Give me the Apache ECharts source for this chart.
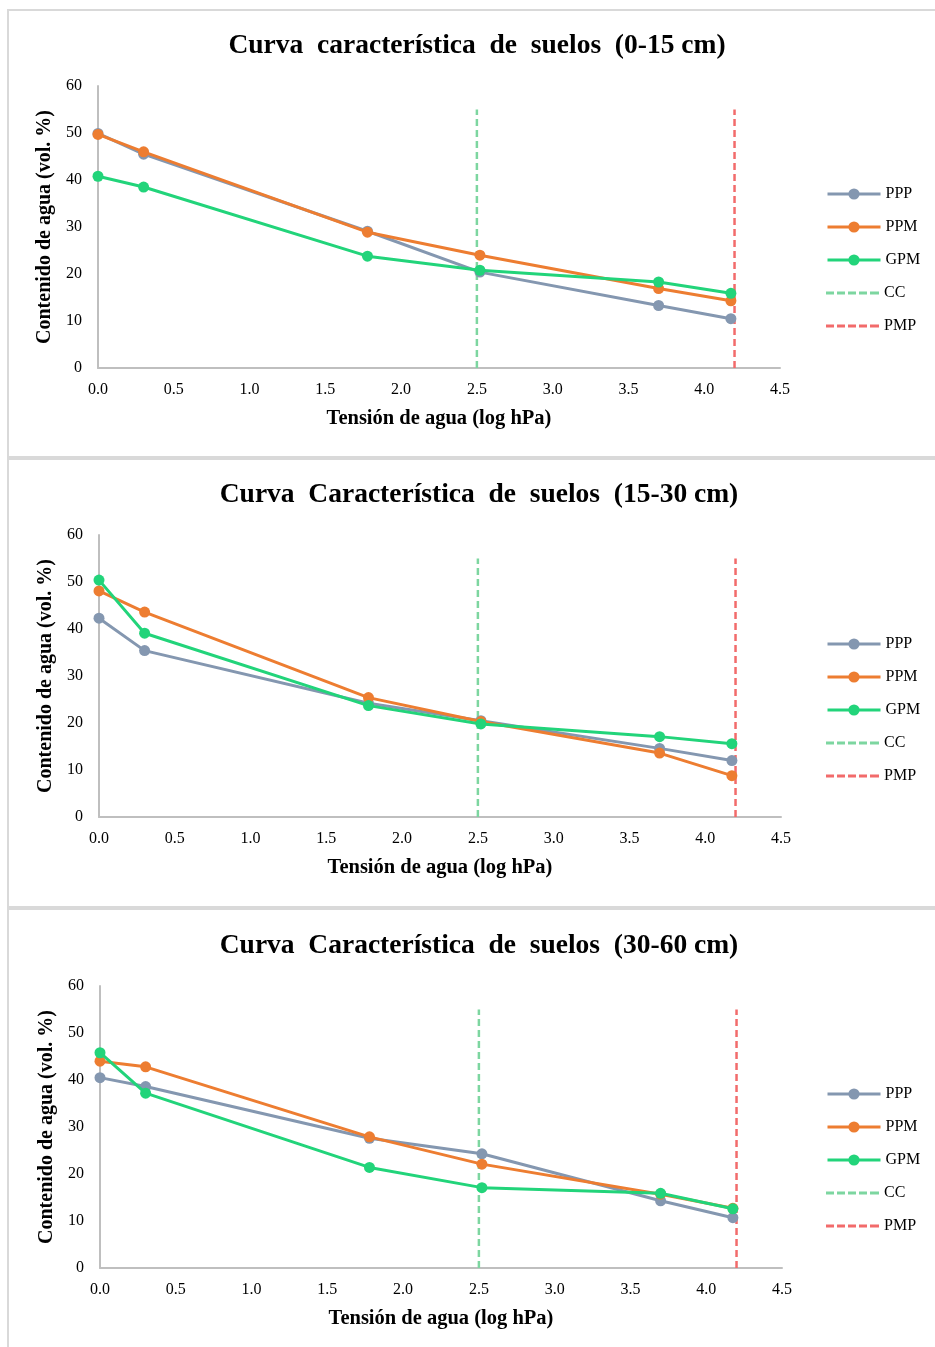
<!DOCTYPE html>
<html>
<head>
<meta charset="utf-8">
<script src="https://cdn.jsdelivr.net/npm/echarts@6/dist/echarts.min.js"></script>
<style>
html,body{margin:0;padding:0;background:#fff;}
#c{width:935px;height:1347px;}
</style>
</head>
<body>
<div id="c"></div>
<script>
// Tension (log hPa) for measured points
const tension = [0, 0.301, 1.778, 2.52, 3.699, 4.176];
const titles = [
  'Curva  característica  de  suelos  (0-15 cm)',
  'Curva  Característica  de  suelos  (15-30 cm)',
  'Curva  Característica  de  suelos  (30-60 cm)'
];
const seriesNames = ['PPP', 'PPM', 'GPM'];
// Panel 1 (0-15 cm)
const ppp1 = [49.9, 45.5, 29.1, 20.4, 13.3, 10.5];
const ppm1 = [49.7, 46.0, 28.9, 24.0, 16.9, 14.3];
const gpm1 = [40.8, 38.5, 23.8, 20.8, 18.3, 15.9];
// Panel 2 (15-30 cm)
const ppp2 = [42.3, 35.4, 24.2, 20.5, 14.6, 12.0];
const ppm2 = [48.1, 43.6, 25.4, 20.3, 13.6, 8.8];
const gpm2 = [50.4, 39.1, 23.7, 19.8, 17.1, 15.6];
// Panel 3 (30-60 cm)
const ppp3 = [40.5, 38.6, 27.6, 24.3, 14.3, 10.7];
const ppm3 = [44.0, 42.8, 27.9, 22.1, 15.7, 12.7];
const gpm3 = [45.8, 37.2, 21.4, 17.1, 15.9, 12.6];
// Reference lines: CC and PMP (x position, y extent)
const ccX = 2.5, pmpX = 4.2;
const refLineY = [0, 55];
const xTicks = ['0.0','0.5','1.0','1.5','2.0','2.5','3.0','3.5','4.0','4.5'];

const panels = [[ppp1, ppm1, gpm1], [ppp2, ppm2, gpm2], [ppp3, ppm3, gpm3]];
const colors = ['#8497b0', '#ed7d31', '#22d47a'];
const ccColor = '#7dd6a0';
const pmpColor = '#f26b6b';
const FONT = '"Liberation Serif", "Times New Roman", serif';
const dashIcon = 'path://M0,0h8v3h-8z M11,0h8v3h-8z M22,0h8v3h-8z M33,0h8v3h-8z M44,0h9v3h-9z';

const layout = [
  {top: 86, left: 98, titleTop: 28, titleX: 472, legendTop: 181},
  {top: 535, left: 99, titleTop: 477, titleX: 474, legendTop: 631},
  {top: 986, left: 100, titleTop: 928, titleX: 474, legendTop: 1081}
];
const gridW = 682, gridH = 282;

const option = {
  animation: false,
  backgroundColor: '#fff',
  title: [], legend: [], grid: [], xAxis: [], yAxis: [], series: [],
  graphic: [
    {type:'rect', shape:{x:7,y:9,width:928,height:2}, style:{fill:'#d9d9d9'}, silent:true},
    {type:'rect', shape:{x:7,y:9,width:2,height:1338}, style:{fill:'#d9d9d9'}, silent:true},
    {type:'rect', shape:{x:7,y:456,width:928,height:4}, style:{fill:'#d9d9d9'}, silent:true},
    {type:'rect', shape:{x:7,y:906,width:928,height:4}, style:{fill:'#d9d9d9'}, silent:true}
  ]
};

panels.forEach((vals, i) => {
  const L = layout[i];
  option.title.push({
    text: titles[i], left: L.titleX, top: L.titleTop - 1, textAlign: 'center',
    textStyle: {fontFamily: FONT, fontWeight: 'bold', fontSize: 27.5, color: '#000'}
  });
  option.grid.push({left: L.left, top: L.top, width: gridW, height: gridH});
  option.xAxis.push({
    type: 'value', gridIndex: i, min: 0, max: 4.5, interval: 0.5,
    name: 'Tensión de agua (log hPa)', nameLocation: 'middle', nameGap: 40,
    nameTextStyle: {fontFamily: FONT, fontWeight: 'bold', fontSize: 20.5, color: '#000'},
    axisLine: {show: true, lineStyle: {color: '#bfbfbf', width: 2}},
    axisTick: {show: false}, splitLine: {show: false},
    axisLabel: {fontFamily: FONT, fontSize: 16, color: '#000', margin: 14,
      formatter: v => xTicks[Math.round(v / 0.5)]}
  });
  option.yAxis.push({
    type: 'value', gridIndex: i, min: 0, max: 60, interval: 10,
    name: 'Contenido de agua (vol. %)', nameLocation: 'middle', nameGap: 37,
    nameTextStyle: {fontFamily: FONT, fontWeight: 'bold', fontSize: 20, color: '#000'},
    axisLine: {show: true, lineStyle: {color: '#bfbfbf', width: 2}},
    axisTick: {show: false}, splitLine: {show: false},
    axisLabel: {fontFamily: FONT, fontSize: 16, color: '#000', margin: 16}
  });
  vals.forEach((arr, k) => {
    const nm = seriesNames[k];
    option.series.push({
      type: 'line', name: nm, xAxisIndex: i, yAxisIndex: i,
      data: arr.map((v, j) => [tension[j], v]),
      symbol: 'circle', symbolSize: 11,
      lineStyle: {width: 3, color: colors[k]},
      itemStyle: {color: colors[k]},
      z: 3 + k
    });
  });
  option.series.push({
    type: 'line', name: 'CC', xAxisIndex: i, yAxisIndex: i,
    data: refLineY.map(y => [ccX, y]), symbol: 'none',
    lineStyle: {width: 2.5, type: [7, 4], color: ccColor}, itemStyle: {color: ccColor}, z: 2
  });
  option.series.push({
    type: 'line', name: 'PMP', xAxisIndex: i, yAxisIndex: i,
    data: refLineY.map(y => [pmpX, y]), symbol: 'none',
    lineStyle: {width: 2.5, type: [7, 4], color: pmpColor}, itemStyle: {color: pmpColor}, z: 2
  });
  option.legend.push({
    data: seriesNames.slice(), orient: 'vertical', left: 821, top: L.legendTop,
    itemWidth: 53, itemHeight: 14, itemGap: 17,
    selectedMode: false,
    lineStyle: {width: 3},
    textStyle: {fontFamily: FONT, fontSize: 16, color: '#000'}
  });
  option.legend.push({
    data: [{name: 'CC', icon: dashIcon}, {name: 'PMP', icon: dashIcon}],
    orient: 'vertical', left: 821, top: L.legendTop + 99,
    itemWidth: 53, itemHeight: 3, itemGap: 17,
    selectedMode: false,
    textStyle: {fontFamily: FONT, fontSize: 16, color: '#000'}
  });
});

const chart = echarts.init(document.getElementById('c'), null, {renderer: 'canvas'});
chart.setOption(option);
</script>
</body>
</html>
